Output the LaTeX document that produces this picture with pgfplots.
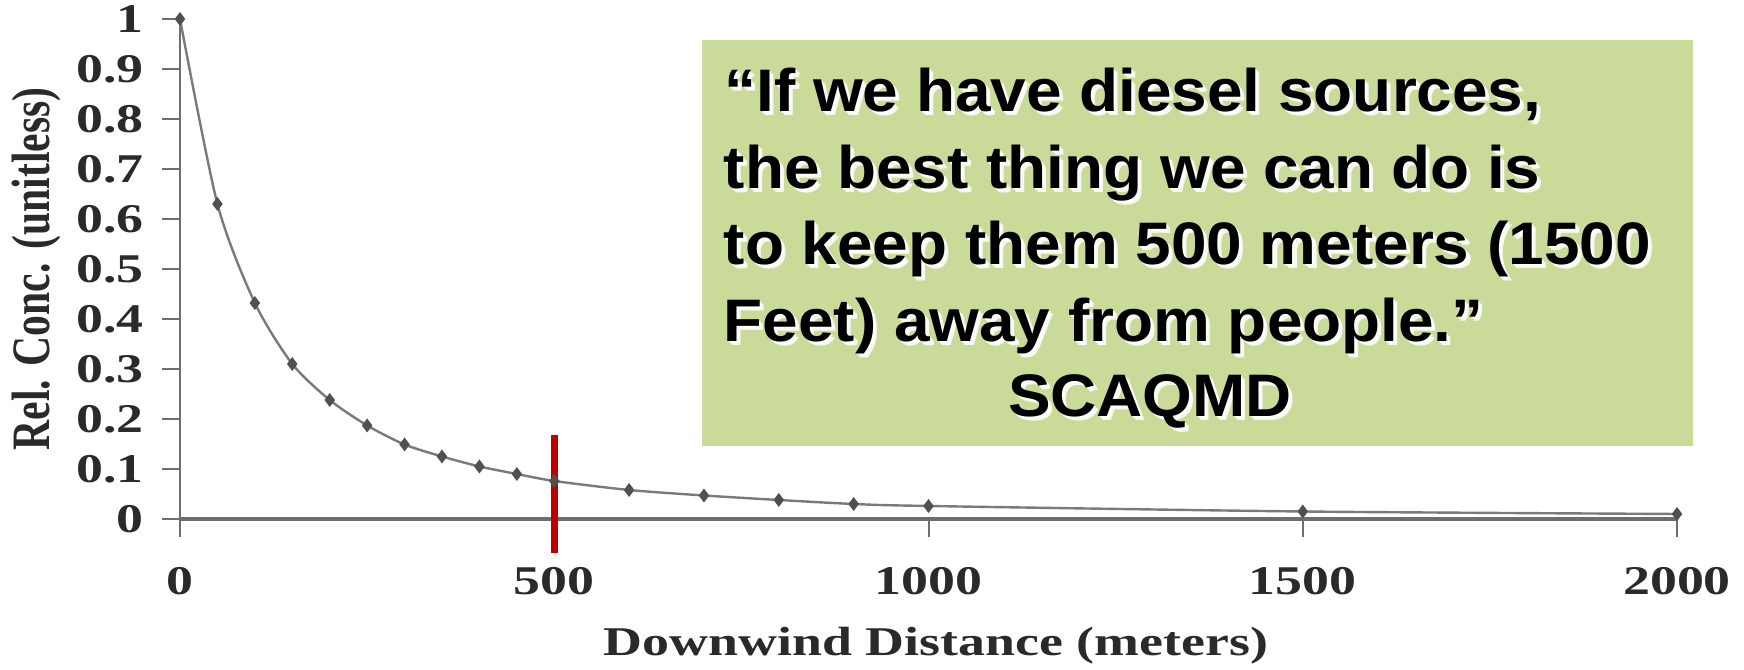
\documentclass[border=0pt]{standalone}
\usepackage{fontspec}
\usepackage{pgfplots}
\pgfplotsset{compat=1.18}
\setmainfont{Liberation Serif}
\newfontfamily\tickfont[FakeStretch=1.32]{Liberation Serif}
\newfontfamily\plainserif{Liberation Serif}
\newfontfamily\boxfont[FakeStretch=1.065]{Liberation Sans}
\definecolor{boxgreen}{HTML}{CADA98}
\definecolor{redline}{HTML}{C00000}
\definecolor{axisgray}{HTML}{6E6E6E}
\definecolor{curvegray}{HTML}{7A7A7A}
\definecolor{markgray}{HTML}{505050}
\definecolor{labelgray}{HTML}{2A2A2A}
\newcommand{\boxline}[3]{%
  \node[anchor=#1, inner sep=0pt, text=white, opacity=0.85] at ([xshift=1.0pt,yshift=-1.0pt]#2) {\boxfont\bfseries\fontsize{15}{18}\selectfont #3};
  \node[anchor=#1, inner sep=0pt, text=white, opacity=0.85] at ([xshift=0.5pt,yshift=-0.5pt]#2) {\boxfont\bfseries\fontsize{15}{18}\selectfont #3};
  \node[anchor=#1, inner sep=0pt, text=black] at (#2) {\boxfont\bfseries\fontsize{15}{18}\selectfont #3};
}
\begin{document}
\begin{tikzpicture}
\useasboundingbox (0,0) rectangle (436pt,167.5pt);
\fill[white] (0,0) rectangle (436pt,167.5pt);
\begin{axis}[
  at={(45pt,37.75pt)}, anchor=south west,
  scale only axis, width=374.25pt, height=125pt,
  xmin=0, xmax=2000, ymin=0, ymax=1,
  axis x line*=bottom, axis y line*=left,
  axis line style={axisgray, line width=0.5pt},
  x axis line style={line width=0.9pt},
  xtick={0,500,1000,1500,2000},
  xticklabels={0,500,1000,1500,2000},
  ytick={0,0.1,0.2,0.3,0.4,0.5,0.6,0.7,0.8,0.9,1},
  yticklabels={0,0.1,0.2,0.3,0.4,0.5,0.6,0.7,0.8,0.9,1},
  tick align=outside, major tick length=4.5pt,
  tick style={axisgray, line width=0.5pt},
  xticklabel style={font=\tickfont\bfseries\fontsize{10.2}{12}\selectfont, text=labelgray, yshift=-4pt},
  yticklabel style={font=\tickfont\bfseries\fontsize{10.2}{12}\selectfont, text=labelgray, xshift=-1pt},
  xlabel={\tickfont\bfseries\fontsize{10.2}{12}\selectfont Downwind Distance (meters)},
  xlabel style={at={(axis description cs:0.505,0)}, anchor=base, yshift=-34.25pt, text=labelgray},
  ylabel={\scalebox{1}[1.3]{\plainserif\bfseries\fontsize{10.4}{12}\selectfont Rel. Conc. (unitless)}},
  ylabel style={at={(axis description cs:-0.096,0.5)}, anchor=center, rotate=0, text=labelgray},
  clip=false,
]
\addplot[curvegray, line width=0.6pt, smooth, tension=0.45,
  mark=diamond*, mark size=1.5pt, mark options={markgray, fill=markgray, line width=0.3pt}]
  coordinates {
  (0,1.0) (50,0.630) (100,0.432) (150,0.310) (200,0.238) (250,0.187)
  (300,0.149) (350,0.125) (400,0.105) (450,0.090) (500,0.076)
  (600,0.058) (700,0.047) (800,0.038) (900,0.030) (1000,0.026)
  (1500,0.015) (2000,0.010)
  };
\addplot[redline, line width=1.75pt, forget plot] coordinates {(500,-0.068) (500,0.168)};
\end{axis}
\fill[boxgreen] (175.5pt,56pt) rectangle (423.25pt,157.5pt);
\boxline{base west}{180.9pt,139.6pt}{“If we have diesel sources,}
\boxline{base west}{180.75pt,120.4pt}{the best thing we can do is}
\boxline{base west}{180.75pt,101.25pt}{to keep them 500 meters (1500}
\boxline{base west}{180.75pt,82.1pt}{Feet) away from people.”}
\boxline{base}{287.5pt,63.25pt}{SCAQMD}
\end{tikzpicture}
\end{document}
